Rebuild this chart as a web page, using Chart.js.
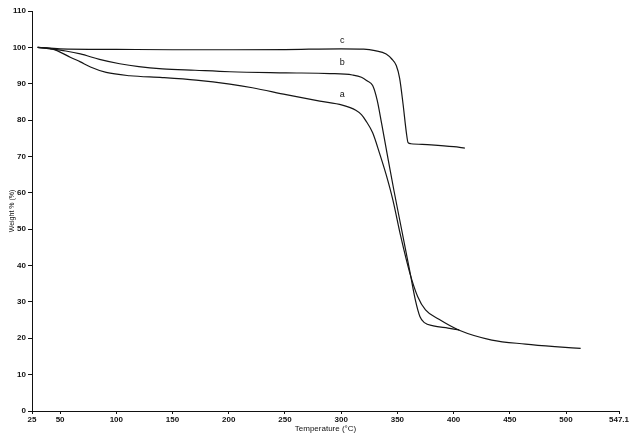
<!DOCTYPE html>
<html>
<head>
<meta charset="utf-8">
<script src="https://cdn.jsdelivr.net/npm/chart.js@4"></script>
<style>
  html, body { margin: 0; padding: 0; background: #fff; }
  #wrap { width: 631px; height: 433px; }
</style>
</head>
<body>
<div id="wrap"><canvas id="tgaChart" width="631" height="433"></canvas></div>
<script>
// curve a
const aTemp = [30, 41, 50, 59, 68, 77, 91, 112, 141, 171, 201, 221, 251, 281, 301, 313, 318, 322, 328, 334, 340, 346, 353, 361, 368, 375, 387, 405, 434, 464, 490, 513];
const aWeight = [100, 99.7, 98.7, 97.3, 96.0, 94.6, 93.1, 92.2, 91.7, 91.0, 89.9, 88.9, 87.0, 85.2, 84.1, 82.7, 81.5, 79.8, 76.5, 71.0, 65.0, 58.0, 48.0, 38.0, 31.5, 27.8, 25.2, 22.2, 19.5, 18.4, 17.7, 17.2];
// curve b
const bTemp = [30, 41, 55, 68, 85, 103, 120, 141, 170, 201, 251, 290, 310, 318, 323, 328, 332, 336, 341, 347, 354, 361, 366, 370, 374, 382, 395, 405];
const bWeight = [100, 99.6, 99.0, 98.2, 96.7, 95.5, 94.7, 94.1, 93.7, 93.3, 93.0, 92.8, 92.4, 91.8, 90.8, 89.5, 85.5, 79.0, 70.5, 60.5, 49.5, 38.5, 30.5, 26.0, 24.3, 23.4, 22.8, 22.3];
// curve c
const cTemp = [30, 50, 100, 150, 200, 250, 300, 320, 330, 340, 345, 349, 352, 355, 358, 359.5, 362, 380, 400, 410];
const cWeight = [100, 99.6, 99.45, 99.35, 99.35, 99.4, 99.6, 99.5, 99.1, 98.2, 96.8, 95.0, 91.5, 84.5, 76.5, 73.8, 73.5, 73.2, 72.7, 72.3];

const xTicks = [25, 50, 100, 150, 200, 250, 300, 350, 400, 450, 500, 547.1];
const curveLabels = ['a', 'b', 'c'];
const labelPos = [[301, 87.1], [301, 95.9], [301, 102]];

const toPoints = (xs, ys) => xs.map((x, i) => ({ x: x, y: ys[i] }));

const lineStyle = {
	borderColor: '#151515',
	borderWidth: 1.2,
	pointRadius: 0,
	fill: false,
	cubicInterpolationMode: 'monotone'
};

const curveText = {
	id: 'curveText',
	afterDatasetsDraw(chart) {
		const c = chart.ctx;
		const xs = chart.scales.x, ys = chart.scales.y;
		c.save();
		c.fillStyle = '#111';
		c.font = '9px "Liberation Sans", Arial, sans-serif';
		c.textAlign = 'center';
		c.textBaseline = 'middle';
		curveLabels.forEach((t, i) => {
			c.fillText(t, xs.getPixelForValue(labelPos[i][0]), ys.getPixelForValue(labelPos[i][1]));
		});
		c.restore();
	}
};

Chart.defaults.font.family = '"Liberation Sans", Arial, sans-serif';
Chart.defaults.color = '#111';

new Chart(document.getElementById('tgaChart').getContext('2d'), {
	type: 'line',
	data: {
		datasets: [
			Object.assign({ label: 'a', data: toPoints(aTemp, aWeight) }, lineStyle),
			Object.assign({ label: 'b', data: toPoints(bTemp, bWeight) }, lineStyle),
			Object.assign({ label: 'c', data: toPoints(cTemp, cWeight) }, lineStyle)
		]
	},
	options: {
		responsive: false,
		animation: false,
		layout: { padding: { top: 11, right: 12, left: 0, bottom: 0 } },
		plugins: { legend: { display: false }, tooltip: { enabled: false } },
		scales: {
			x: {
				type: 'linear',
				min: 25,
				max: 547.1,
				afterBuildTicks: (s) => { s.ticks = xTicks.map(v => ({ value: v })); },
				afterFit: (s) => { s.height = 22; },
				ticks: {
					autoSkip: false,
					maxRotation: 0,
					padding: 1,
					font: { size: 8, weight: 'bold' },
					callback: (v) => String(v)
				},
				grid: { display: true, drawOnChartArea: false, tickLength: 3, color: '#111' },
				border: { display: true, color: '#111', width: 1 },
				title: { display: true, text: 'Temperature (°C)', font: { size: 8 }, padding: { top: 0, bottom: -1 } }
			},
			y: {
				min: 0,
				max: 110,
				afterFit: (s) => { s.width = 32; },
				ticks: { stepSize: 10, padding: 2, font: { size: 8, weight: 'bold' } },
				grid: { display: true, drawOnChartArea: false, tickLength: 4, color: '#111' },
				border: { display: true, color: '#111', width: 1 },
				title: { display: true, text: 'Weight % (%)', font: { size: 7 }, padding: { top: 8, bottom: 0 } }
			}
		}
	},
	plugins: [curveText]
});
</script>
</body>
</html>
